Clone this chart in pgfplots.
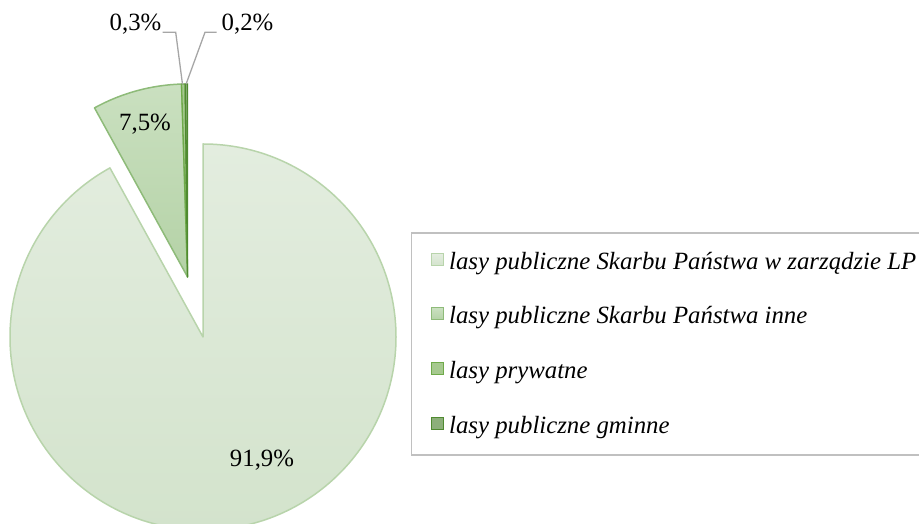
\documentclass[border=0pt]{standalone}
\usepackage{pgfplots}
\usepackage{pgfplotstable}
\pgfplotsset{compat=1.18}
\usepackage{fontspec}
\setmainfont{Liberation Serif}

\definecolor{sAtop}{HTML}{E3EDDF}
\definecolor{sAbot}{HTML}{D3E3CC}
\definecolor{sAline}{HTML}{B8D4AB}
\definecolor{sBtop}{HTML}{CAE0C0}
\definecolor{sBbot}{HTML}{B4D2A6}
\definecolor{sBline}{HTML}{8EBB79}
\definecolor{sCfill}{HTML}{A6C98F}
\definecolor{sCline}{HTML}{6FAA4A}
\definecolor{sDfill}{HTML}{8CAF7A}
\definecolor{sDline}{HTML}{4F8A30}
\definecolor{leader}{HTML}{A6A6A6}
\definecolor{legbox}{HTML}{C0C0C0}

\pgfplotstableread{
share
91.9
7.5
0.3
0.2
}\piedata

\pgfplotstablegetelem{0}{share}\of\piedata \let\va\pgfplotsretval
\pgfplotstablegetelem{1}{share}\of\piedata \let\vb\pgfplotsretval
\pgfplotstablegetelem{2}{share}\of\piedata \let\vc\pgfplotsretval
\pgfplotstablegetelem{3}{share}\of\piedata \let\vd\pgfplotsretval
\pgfmathsetmacro\tot{\va+\vb+\vc+\vd}
\pgfmathsetmacro\aB{450-\va/\tot*360}
\pgfmathsetmacro\aBm{\aB-360}
\pgfmathsetmacro\aC{\aB-\vb/\tot*360}
\pgfmathsetmacro\aD{\aC-\vc/\tot*360}
\pgfmathsetmacro\aE{\aD-\vd/\tot*360}
\pgfmathsetmacro\midang{(\aB+90)/2}
\pgfmathsetmacro\ex{203+62*cos(\midang)}
\pgfmathsetmacro\ey{187+62*sin(\midang)}

\newcommand\lf{\fontsize{24.8}{29}\selectfont}
\pgfkeys{/pgf/number format/.cd, fixed, precision=1, fixed zerofill, use comma, assume math mode=true}

\begin{document}
\begin{tikzpicture}
\begin{axis}[
  scale only axis, width=919pt, height=524pt,
  xmin=0, xmax=919, ymin=0, ymax=524,
  hide axis, clip=true,
]
% main slice
\path[draw=sAline, line width=1.5pt, line join=round, top color=sAtop, bottom color=sAbot]
  (axis cs:203,187) -- ++(90:193pt) arc[start angle=90, end angle=\aBm, radius=193pt] -- cycle;
% exploded slices
\path[draw=sBline, line width=1.5pt, line join=round, top color=sBtop, bottom color=sBbot]
  (axis cs:\ex,\ey) -- ++(\aB:193pt) arc[start angle=\aB, end angle=\aC, radius=193pt] -- cycle;
\path[draw=sCline, fill=sCfill, line width=1.3pt, line join=round]
  (axis cs:\ex,\ey) -- ++(\aC:193pt) arc[start angle=\aC, end angle=\aD, radius=193pt] -- cycle;
\path[draw=sDline, fill=sDfill, line width=1.3pt, line join=round]
  (axis cs:\ex,\ey) -- ++(\aD:193pt) arc[start angle=\aD, end angle=\aE, radius=193pt] -- cycle;
% data labels
\node[font=\lf] at (axis cs:262,64) {\pgfmathprintnumber{\va}\%};
\node[font=\lf] at (axis cs:145,400) {\pgfmathprintnumber{\vb}\%};
\node[font=\lf] at (axis cs:135.5,500) {\pgfmathprintnumber{\vc}\%};
\node[font=\lf] at (axis cs:247.5,500) {\pgfmathprintnumber{\vd}\%};
\draw[leader, line width=1.3pt] (axis cs:162.7,491.7) -- (axis cs:175.7,491.7) -- (axis cs:182.5,439.7);
\draw[leader, line width=1.3pt] (axis cs:216.7,491.7) -- (axis cs:205,491.7) -- (axis cs:186,439.7);
% legend
\draw[legbox, line width=1.3pt] (axis cs:411.5,291) rectangle (axis cs:935,69);
\path[draw=sAline, line width=1pt, top color=sAtop, bottom color=sAbot] (axis cs:431,258) rectangle (axis cs:443,270);
\path[draw=sBline, line width=1pt, top color=sBtop, bottom color=sBbot] (axis cs:431,204) rectangle (axis cs:443,216);
\path[draw=sCline, fill=sCfill, line width=1pt] (axis cs:431,149) rectangle (axis cs:443,161);
\path[draw=sDline, fill=sDfill, line width=1pt] (axis cs:431,94) rectangle (axis cs:443,106);
\node[font=\lf\itshape, anchor=base west, inner sep=0pt] at (axis cs:449,254) {lasy publiczne Skarbu Państwa w zarządzie LP};
\node[font=\lf\itshape, anchor=base west, inner sep=0pt] at (axis cs:449,200) {lasy publiczne Skarbu Państwa inne};
\node[font=\lf\itshape, anchor=base west, inner sep=0pt] at (axis cs:449,145) {lasy prywatne};
\node[font=\lf\itshape, anchor=base west, inner sep=0pt] at (axis cs:449,90) {lasy publiczne gminne};
\end{axis}
\pgfresetboundingbox
\useasboundingbox (current axis.south west) rectangle (current axis.north east);
\end{tikzpicture}
\end{document}
